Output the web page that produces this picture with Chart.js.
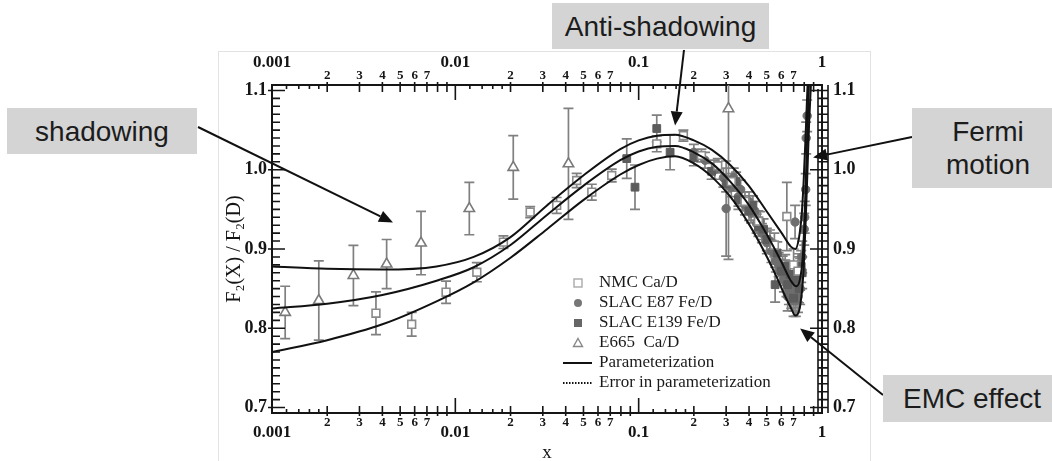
<!DOCTYPE html>
<html><head><meta charset="utf-8">
<script src="https://cdn.jsdelivr.net/npm/chart.js@4.4.1/dist/chart.umd.min.js"></script>
<style>
html,body{margin:0;padding:0;background:#fff;width:1052px;height:461px;overflow:hidden;position:relative;}
#frame{position:absolute;left:218px;top:51px;width:651px;height:420px;border:1px solid #e2e2e2;}
#c{position:absolute;left:0;top:0;}
.box{position:absolute;background:#d4d4d4;color:#1c1c1c;font-family:'Liberation Sans',Arial,sans-serif;font-size:28px;display:flex;align-items:center;justify-content:center;text-align:center;line-height:33px;}
</style></head>
<body>
<div id="frame"></div>
<canvas id="c" width="1052" height="461"></canvas>
<div class="box" style="left:7px;top:108px;width:190px;height:46px;">shadowing</div>
<div class="box" style="left:552px;top:3px;width:217px;height:46px;">Anti-shadowing</div>
<div class="box" style="left:912px;top:108px;width:152px;height:80px;">Fermi<br>motion</div>
<div class="box" style="left:883px;top:375px;width:181px;height:47px;justify-content:flex-start;padding-left:20px;box-sizing:border-box;">EMC effect</div>
<script>
// ---------- data ----------
const nmcX   = [0.00369, 0.00578, 0.0089, 0.0131, 0.0183, 0.0256, 0.0357, 0.0459, 0.0555, 0.0713, 0.1255, 0.1754, 0.22, 0.27, 0.32, 0.38, 0.45, 0.55, 0.643, 0.70, 0.74];
const nmcY   = [0.819, 0.805, 0.8455, 0.8707, 0.9086, 0.9466, 0.955, 0.9864, 0.9717, 0.9927, 1.0327, 1.043, 1.018, 1.005, 0.985, 0.960, 0.935, 0.905, 0.941, 0.880, 0.872];
const nmcErr = [0.027, 0.015, 0.014, 0.012, 0.008, 0.007, 0.010, 0.009, 0.010, 0.008, 0.010, 0.007, 0.008, 0.009, 0.010, 0.012, 0.013, 0.015, 0.043, 0.020, 0.022];

const e87X   = [0.20, 0.23, 0.26, 0.29, 0.30, 0.32, 0.33, 0.35, 0.36, 0.38, 0.40, 0.41, 0.43, 0.44, 0.46, 0.47, 0.50, 0.52, 0.53, 0.55, 0.56, 0.58, 0.59, 0.61, 0.62, 0.63, 0.64, 0.65, 0.65, 0.66, 0.67, 0.68, 0.69, 0.70, 0.70, 0.71, 0.713, 0.72, 0.72, 0.73, 0.74, 0.74, 0.75, 0.76, 0.76, 0.78, 0.80, 0.805, 0.815, 0.82, 0.83];
const e87Y   = [1.022, 1.012, 1.000, 0.990, 0.951, 0.978, 0.990, 0.966, 0.975, 0.955, 0.960, 0.945, 0.948, 0.932, 0.935, 0.920, 0.908, 0.910, 0.897, 0.895, 0.885, 0.880, 0.872, 0.875, 0.862, 0.870, 0.856, 0.862, 0.840, 0.848, 0.858, 0.843, 0.852, 0.842, 0.835, 0.850, 0.934, 0.846, 0.835, 0.858, 0.853, 0.840, 0.870, 0.868, 0.850, 0.890, 0.925, 0.940, 0.975, 1.040, 1.068];
const e87Err = [0.010, 0.010, 0.012, 0.012, 0.060, 0.012, 0.012, 0.012, 0.012, 0.012, 0.012, 0.012, 0.012, 0.012, 0.012, 0.012, 0.014, 0.014, 0.014, 0.014, 0.014, 0.015, 0.015, 0.016, 0.016, 0.016, 0.016, 0.018, 0.018, 0.018, 0.018, 0.018, 0.020, 0.020, 0.020, 0.020, 0.021, 0.020, 0.020, 0.020, 0.020, 0.020, 0.020, 0.020, 0.020, 0.020, 0.020, 0.020, 0.020, 0.020, 0.020];

const e139X   = [0.0861, 0.0955, 0.1255, 0.1484, 0.20, 0.25, 0.30, 0.34, 0.35, 0.40, 0.42, 0.45, 0.48, 0.50, 0.555, 0.57, 0.60, 0.63, 0.65, 0.67, 0.70, 0.72, 0.75, 0.77, 0.78];
const e139Y   = [1.014, 0.978, 1.052, 1.022, 1.015, 0.998, 0.982, 0.985, 0.962, 0.948, 0.955, 0.928, 0.925, 0.912, 0.855, 0.895, 0.872, 0.878, 0.855, 0.868, 0.838, 0.862, 0.850, 0.878, 0.870];
const e139Err = [0.025, 0.028, 0.017, 0.022, 0.010, 0.010, 0.010, 0.012, 0.012, 0.012, 0.012, 0.012, 0.013, 0.014, 0.022, 0.014, 0.014, 0.015, 0.015, 0.016, 0.016, 0.018, 0.018, 0.020, 0.020];

const e665X   = [0.00118, 0.0018, 0.00278, 0.00422, 0.0065, 0.01192, 0.0207, 0.0414, 0.309];
const e665Y   = [0.820, 0.835, 0.8666, 0.881, 0.9075, 0.951, 1.003, 1.0075, 1.077];
const e665Err = [0.033, 0.050, 0.038, 0.031, 0.040, 0.033, 0.040, 0.070, 0.190];

// parameterization (middle) and its error band (upper / lower)
const upperX = [0.001, 0.002, 0.004, 0.0079, 0.0126, 0.02, 0.0316, 0.0501, 0.0794, 0.1, 0.126, 0.158, 0.2, 0.251, 0.316, 0.398, 0.501, 0.603, 0.676, 0.716, 0.75, 0.776, 0.794, 0.813, 0.832, 0.851];
const upperY = [0.878, 0.875, 0.874, 0.878, 0.890, 0.915, 0.955, 0.993, 1.026, 1.037, 1.043, 1.044, 1.037, 1.025, 1.006, 0.980, 0.947, 0.920, 0.903, 0.900, 0.915, 0.945, 0.985, 1.040, 1.100, 1.150];
const midX = [0.001, 0.002, 0.004, 0.0079, 0.0126, 0.02, 0.0316, 0.0501, 0.0794, 0.1, 0.126, 0.158, 0.2, 0.251, 0.316, 0.398, 0.501, 0.603, 0.676, 0.724, 0.759, 0.785, 0.804, 0.822, 0.841, 0.861];
const midY = [0.825, 0.831, 0.842, 0.860, 0.877, 0.905, 0.943, 0.980, 1.012, 1.023, 1.029, 1.030, 1.022, 1.008, 0.985, 0.956, 0.918, 0.883, 0.860, 0.853, 0.862, 0.890, 0.940, 1.010, 1.080, 1.150];
const lowX = [0.001, 0.002, 0.004, 0.0079, 0.0126, 0.02, 0.0316, 0.0501, 0.0794, 0.1, 0.126, 0.158, 0.2, 0.251, 0.316, 0.398, 0.501, 0.562, 0.631, 0.676, 0.716, 0.75, 0.776, 0.794, 0.813, 0.832, 0.851, 0.871, 0.891];
const lowY = [0.770, 0.785, 0.805, 0.834, 0.858, 0.889, 0.925, 0.962, 0.994, 1.006, 1.014, 1.017, 1.008, 0.991, 0.966, 0.932, 0.890, 0.866, 0.840, 0.826, 0.816, 0.822, 0.845, 0.875, 0.930, 0.995, 1.060, 1.110, 1.150];

// ---------- axes / ticks ----------
const xDecades = [0.001, 0.01, 0.1, 1];
const xDecadeLabels = ['0.001', '0.01', '0.1', '1'];
const xMinorSteps = [2, 3, 4, 5, 6, 7, 8, 9];
const xMinorLabels = ['2', '3', '4', '5', '6', '7', '', ''];
const xSubSteps = [1.2, 1.4, 1.6, 1.8];
const yLabelValues = [0.7, 0.8, 0.9, 1.0, 1.1];
const yLabels = ['0.7', '0.8', '0.9', '1.0', '1.1'];
const yMin = 0.6931, yMax = 1.1069;

const legendLabels = ['NMC Ca/D', 'SLAC E87 Fe/D', 'SLAC E139 Fe/D', 'E665  Ca/D', 'Parameterization', 'Error in parameterization'];

// annotation arrows: tail in page pixels (box edge), head in data coordinates
const arrowTails = [[198, 127], [684, 50], [912, 137], [883, 395]];
const arrowHeadX = [0.00457, 0.158, 0.894, 0.760];
const arrowHeadY = [0.9334, 1.0558, 1.0155, 0.7997];

const xTickList = [];
xDecades.forEach((d, i) => {
  xTickList.push({value: d, major: true, label: xDecadeLabels[i]});
  if (i < xDecades.length - 1) xMinorSteps.forEach((m, k) => xTickList.push({value: +(m * d).toPrecision(4), major: false, label: xMinorLabels[k]}));
});

const pts = (xs, ys) => xs.map((x, i) => ({x: x, y: ys[i]}));
const SERIF = "'Liberation Serif', 'Times New Roman', serif";

const errorBarPlugin = {
  id: 'errorBars',
  beforeDatasetsDraw(chart) {
    const {ctx, chartArea: a, scales: {y}} = chart;
    ctx.save();
    ctx.beginPath(); ctx.rect(a.left, a.top, a.right - a.left, a.bottom - a.top); ctx.clip();
    chart.data.datasets.forEach((ds, i) => {
      if (!ds.errors) return;
      const meta = chart.getDatasetMeta(i);
      ctx.strokeStyle = '#808080'; ctx.lineWidth = 1.7;
      meta.data.forEach((pt, j) => {
        const e = ds.errors[j]; const v = ds.data[j].y;
        const x = pt.x, y1 = y.getPixelForValue(v + e), y2 = y.getPixelForValue(v - e);
        const cap = 5;
        ctx.beginPath();
        ctx.moveTo(x, y1); ctx.lineTo(x, y2);
        ctx.moveTo(x - cap, y1); ctx.lineTo(x + cap, y1);
        ctx.moveTo(x - cap, y2); ctx.lineTo(x + cap, y2);
        ctx.stroke();
      });
    });
    ctx.restore();
  }
};

const ticksPlugin = {
  id: 'axisTicks',
  afterDraw(chart) {
    const {ctx, chartArea: a, scales: {x, y}} = chart;
    ctx.save();
    ctx.strokeStyle = '#151515'; ctx.lineWidth = 1.6;
    ctx.beginPath();
    const seg = (x1, y1, x2, y2) => { ctx.moveTo(x1, y1); ctx.lineTo(x2, y2); };
    xDecades.forEach((d, i) => {
      const px = x.getPixelForValue(d);
      seg(px, a.bottom, px, a.bottom - 15); seg(px, a.top, px, a.top + 15);
      if (i < xDecades.length - 1) {
        xMinorSteps.forEach(m => { const p = x.getPixelForValue(m * d); seg(p, a.bottom + 3, p, a.bottom - 7); seg(p, a.top - 3, p, a.top + 7); });
        xSubSteps.forEach(m => { const p = x.getPixelForValue(m * d); seg(p, a.bottom, p, a.bottom - 4); seg(p, a.top, p, a.top + 4); });
      }
    });
    for (let i = 0; i <= 40; i++) {
      const py = y.getPixelForValue(0.7 + i * 0.01);
      if (i % 10 === 0) {
        seg(a.left - 4, py, a.left + 13, py);
        seg(a.right + 6, py, a.right - 12, py);
      } else {
        seg(a.left, py, a.left + 8, py);
        seg(a.right - 4, py, a.right + 6, py);
      }
    }
    seg(a.right + 6, a.top, a.right + 6, a.bottom);
    seg(a.right - 4, a.top + 4, a.right - 4, a.bottom);
    ctx.stroke();
    ctx.restore();

    // legend
    ctx.save();
    const lx = a.left + 306, tx = a.left + 327, ty0 = a.top + 198;
    ctx.font = '17px ' + SERIF; ctx.fillStyle = '#1a1a1a'; ctx.textBaseline = 'middle'; ctx.textAlign = 'left';
    legendLabels.forEach((t, k) => {
      const yy = ty0 + k * 20;
      ctx.fillText(t, tx, yy);
      ctx.lineWidth = 1.4;
      if (k === 0) { ctx.fillStyle = '#fff'; ctx.strokeStyle = '#aaa'; ctx.fillRect(lx - 4, yy - 4, 8, 8); ctx.strokeRect(lx - 4, yy - 4, 8, 8); }
      if (k === 1) { ctx.fillStyle = '#777'; ctx.beginPath(); ctx.arc(lx, yy, 4, 0, Math.PI * 2); ctx.fill(); }
      if (k === 2) { ctx.fillStyle = '#666'; ctx.fillRect(lx - 4, yy - 4, 8, 8); }
      if (k === 3) { ctx.strokeStyle = '#888'; ctx.beginPath(); ctx.moveTo(lx, yy - 4.5); ctx.lineTo(lx + 4.5, yy + 3.5); ctx.lineTo(lx - 4.5, yy + 3.5); ctx.closePath(); ctx.stroke(); }
      if (k === 4) { ctx.strokeStyle = '#111'; ctx.lineWidth = 2; ctx.beginPath(); ctx.moveTo(lx - 15, yy); ctx.lineTo(lx + 14, yy); ctx.stroke(); }
      if (k === 5) { ctx.strokeStyle = '#111'; ctx.lineWidth = 2; ctx.setLineDash([1.5, 1.5]); ctx.beginPath(); ctx.moveTo(lx - 15, yy); ctx.lineTo(lx + 14, yy); ctx.stroke(); ctx.setLineDash([]); }
      ctx.fillStyle = '#1a1a1a';
    });
    ctx.restore();

    // arrows
    ctx.save();
    ctx.strokeStyle = '#111'; ctx.fillStyle = '#111'; ctx.lineWidth = 2;
    arrowTails.forEach((t, i) => {
      const hx = x.getPixelForValue(arrowHeadX[i]), hy = y.getPixelForValue(arrowHeadY[i]);
      const ang = Math.atan2(hy - t[1], hx - t[0]);
      const L = 14, W = 6;
      const bx = hx - L * Math.cos(ang), by = hy - L * Math.sin(ang);
      ctx.beginPath(); ctx.moveTo(t[0], t[1]); ctx.lineTo(bx, by); ctx.stroke();
      ctx.beginPath(); ctx.moveTo(hx, hy);
      ctx.lineTo(bx + W * Math.sin(ang), by - W * Math.cos(ang));
      ctx.lineTo(bx - W * Math.sin(ang), by + W * Math.cos(ang));
      ctx.closePath(); ctx.fill();
    });
    ctx.restore();
  }
};

const fMinorB = {family: SERIF, size: 13, weight: 'bold', lineHeight: 1.2};
const fMajorB = {family: SERIF, size: 17, weight: 'bold', lineHeight: 0.71};
const fMajorT = {family: SERIF, size: 17, weight: 'bold', lineHeight: 0.79};
const borderOpt = {display: true, color: '#151515', width: 2};

function xAxis(pos) {
  return {
    type: 'logarithmic', position: pos, min: 0.001, max: 1,
    afterBuildTicks: ax => { ax.ticks = xTickList.map(t => ({value: t.value, major: t.major})); },
    afterFit: ax => { ax.height = pos === 'bottom' ? 48 : 45; },
    grid: {display: false, drawTicks: false}, border: borderOpt,
    ticks: {
      autoSkip: false, maxRotation: 0, minRotation: 0, padding: 2, color: '#151515',
      font: c => (c.tick && c.tick.major) ? (pos === 'bottom' ? fMajorB : fMajorT) : fMinorB,
      callback: (v, i) => { const t = xTickList[i]; return t.major ? (pos === 'bottom' ? ['', t.label] : [t.label, '']) : t.label; }
    },
    title: pos === 'bottom' ? {display: true, text: 'x', color: '#151515', font: {family: SERIF, size: 19, lineHeight: 0.8}, padding: {top: 0, bottom: 0}} : {display: false}
  };
}
function yAxis(pos) {
  return {
    type: 'linear', position: pos, min: yMin, max: yMax,
    afterBuildTicks: ax => { ax.ticks = yLabelValues.map(v => ({value: v})); },
    afterFit: ax => { ax.width = pos === 'left' ? 54 : 50; },
    grid: {display: false, drawTicks: false}, border: borderOpt,
    ticks: {
      padding: pos === 'left' ? 5 : 11, color: '#151515',
      font: {family: SERIF, size: 18, weight: 'bold'},
      callback: (v, i) => yLabels[i]
    },
    title: pos === 'left' ? {display: true, text: 'F\u2082(X) / F\u2082(D)', color: '#151515', font: {family: SERIF, size: 20}, padding: {top: 5, bottom: 0}} : {display: false}
  };
}

const curveStyle = {type: 'line', borderColor: '#111', borderWidth: 2, pointRadius: 0, fill: false, cubicInterpolationMode: 'monotone'};

new Chart(document.getElementById('c'), {
  type: 'scatter',
  data: {
    datasets: [
      Object.assign({label: 'Error upper', data: pts(upperX, upperY)}, curveStyle),
      Object.assign({label: 'Parameterization', data: pts(midX, midY)}, curveStyle),
      Object.assign({label: 'Error lower', data: pts(lowX, lowY)}, curveStyle),
      {label: 'E665 Ca/D', data: pts(e665X, e665Y), errors: e665Err, pointStyle: 'triangle', radius: 6, backgroundColor: '#fff', borderColor: '#7a7a7a', borderWidth: 1.6},
      {label: 'NMC Ca/D', data: pts(nmcX, nmcY), errors: nmcErr, pointStyle: 'rect', radius: 5.5, backgroundColor: '#fff', borderColor: '#8a8a8a', borderWidth: 1.6},
      {label: 'SLAC E139 Fe/D', data: pts(e139X, e139Y), errors: e139Err, pointStyle: 'rect', radius: 5.5, backgroundColor: '#5c5c5c', borderColor: '#5c5c5c', borderWidth: 1},
      {label: 'SLAC E87 Fe/D', data: pts(e87X, e87Y), errors: e87Err, pointStyle: 'circle', radius: 4.2, backgroundColor: '#6e6e6e', borderColor: '#6e6e6e', borderWidth: 1}
    ]
  },
  options: {
    responsive: false, animation: false, devicePixelRatio: 1,
    layout: {padding: {left: 218, right: 180, top: 40, bottom: 0}},
    plugins: {legend: {display: false}, tooltip: {enabled: false}},
    scales: {x: xAxis('bottom'), x2: xAxis('top'), y: yAxis('left'), y2: yAxis('right')}
  },
  plugins: [errorBarPlugin, ticksPlugin]
});
</script>
</body></html>
